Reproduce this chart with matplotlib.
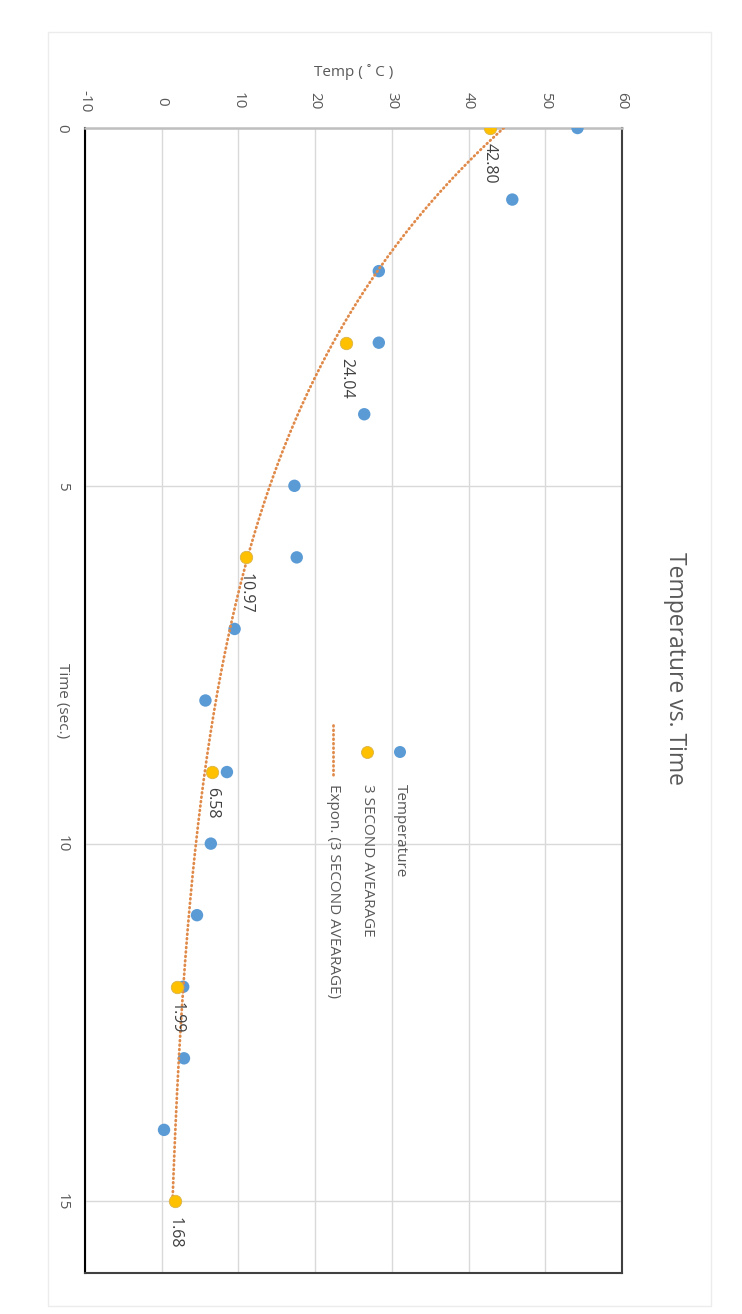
import numpy as np
import matplotlib
matplotlib.use("Agg")
import matplotlib.pyplot as plt
from matplotlib.patches import Rectangle
from matplotlib.lines import Line2D

plt.rcParams['font.family'] = ['Open Sans', 'DejaVu Sans']
plt.rcParams['axes.unicode_minus'] = False

# ---- data ----
time_s = [0, 1, 2, 3, 4, 5, 6, 7, 8, 9, 10, 11, 12, 13, 14]
temperature = [54.2, 45.7, 28.3, 28.3, 26.4, 17.3, 17.6, 9.5, 5.7, 8.5, 6.4, 4.6, 2.8, 2.9, 0.3]
avg_time = [0, 3, 6, 9, 12, 15]
avg_temp = [42.80, 24.04, 10.97, 6.58, 1.99, 1.68]
avg_labels = ["42.80", "24.04", "10.97", "6.58", "1.99", "1.68"]
temp_ticks = [-10, 0, 10, 20, 30, 40, 50, 60]
time_ticks = [0, 5, 10, 15]

title = "Temperature vs. Time"
temp_label = "Temp ( ˚ C )"
time_label = "Time (sec.)"
legend_names = ["Temperature", "3 SECOND AVEARAGE", "Expon. (3 SECOND AVEARAGE)"]

BLUE = "#5B9BD5"
YELLOW = "#FFC000"
ORANGE = "#E08A4A"
TXT = "#595959"

W, H = 742, 1314
fig = plt.figure(figsize=(W / 100, H / 100), dpi=100)
fig.patch.set_facecolor("white")

# outer chart border
fig.patches.append(Rectangle((48 / W, 1 - 1306 / H), (711 - 48) / W, (1306 - 32) / H,
                             transform=fig.transFigure, fill=False,
                             edgecolor="#ececec", lw=1.0))

L, R, T, B = 85, 622, 128, 1273
ax = fig.add_axes([L / W, 1 - B / H, (R - L) / W, (B - T) / H])

ax.set_xlim(-10, 60)
ax.set_ylim(16, 0)

# gridlines
ax.set_xticks(temp_ticks)
ax.set_yticks(time_ticks)
ax.grid(True, color="#d9d9d9", lw=1.0)
ax.set_axisbelow(True)

ax.xaxis.tick_top()
ax.tick_params(axis="both", length=0, colors=TXT, labelsize=11)
ax.tick_params(axis="x", pad=19.5)
ax.tick_params(axis="y", pad=16.5)
for lab in ax.get_xticklabels():
    lab.set_rotation(-90)
    lab.set_ha("center")
    lab.set_va("center")
for lab in ax.get_yticklabels():
    lab.set_rotation(-90)
    lab.set_ha("center")
    lab.set_va("center")

# spines
ax.spines["left"].set_color("#000000")
ax.spines["left"].set_linewidth(1.5)
ax.spines["top"].set_color("#bfbfbf")
ax.spines["top"].set_linewidth(1.8)
for s in ("right", "bottom"):
    ax.spines[s].set_color("#404040")
    ax.spines[s].set_linewidth(1.5)

# exponential trendline fitted to the 3-second averages
coef = np.polyfit(avg_time, np.log(avg_temp), 1)
tt = np.linspace(min(avg_time), max(avg_time), 300)
DOT = (0, (0.3, 1.3))
ax.plot(np.exp(np.polyval(coef, tt)), tt, color=ORANGE, lw=2.0,
        linestyle=DOT, dash_capstyle="round", zorder=4)

# scatter series
ax.scatter(temperature, time_s, s=80, color=BLUE, edgecolors="none", zorder=3)
ax.scatter(avg_temp, avg_time, s=80, color=YELLOW, edgecolors="#d9b34a",
           linewidths=0.6, zorder=5)

for v, t, lab in zip(avg_temp, avg_time, avg_labels):
    ax.annotate(lab, (v, t), xytext=(0, -11), textcoords="offset points",
                rotation=-90, ha="center", va="top", fontsize=11.5, color="#404040",
                zorder=6)

# axis titles
ax.set_xlabel(temp_label, fontsize=11, color=TXT)
ax.xaxis.set_label_position("top")
ax.xaxis.label.set_ha("center")
ax.xaxis.label.set_va("center")
ax.xaxis.set_label_coords(0.5, 1 + (T - 72) / (B - T))

ax.set_ylabel(time_label, fontsize=11, color=TXT, rotation=-90)
ax.yaxis.label.set_ha("center")
ax.yaxis.label.set_va("center")
ax.yaxis.set_label_coords((62 - L) / (R - L), 0.5)

# title (rotated chart)
fig.text(675 / W, 1 - 669 / H, title, rotation=-90, ha="center", va="center",
         fontsize=16.5, color=TXT)

# manual rotated legend
def ax_x(px):
    return (px - L) / (R - L)

def ax_y(py):
    return 1 - (py - T) / (B - T)

ax.scatter([ax_x(400)], [ax_y(752)], s=75, color=BLUE, edgecolors="none",
           transform=ax.transAxes, clip_on=False, zorder=5)
ax.scatter([ax_x(367)], [ax_y(752)], s=75, color=YELLOW, edgecolors="#d9b34a",
           linewidths=0.6, transform=ax.transAxes, clip_on=False, zorder=5)
ax.add_line(Line2D([ax_x(333), ax_x(333)], [ax_y(725), ax_y(777)], color=ORANGE,
                   lw=2.0, linestyle=DOT, dash_capstyle="round",
                   transform=ax.transAxes))
for px, name in zip([400, 367, 333], legend_names):
    ax.text(ax_x(px), ax_y(784), name, rotation=-90, ha="center", va="top",
            fontsize=11, color=TXT, transform=ax.transAxes)

fig.savefig("out.png", dpi=100, facecolor="white")
